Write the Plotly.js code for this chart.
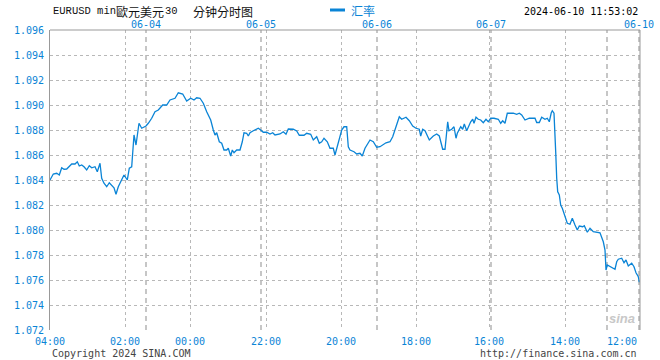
<!DOCTYPE html>
<html>
<head>
<meta charset="utf-8">
<script src="https://cdn.plot.ly/plotly-3.0.1.min.js"></script>
<style>html,body{margin:0;padding:0;background:#fff;}#chart{width:660px;height:360px;}</style>
</head>
<body>
<div id="chart"></div>
<script>
// time slot (sample position along the session) and EURUSD rate
const slots = [0,3.3,6.7,9.3,11.7,14,16.7,21.7,25,27.3,29.3,31.7,34,36.7,39.3,41.7,45,47.3,50,51.7,54,56.7,59.3,61.7,64,66,68.3,70.7,74,77.3,79.3,81.7,82.7,84,86,87.3,89,91.7,96,98.3,101.7,105,108.3,112.7,116.7,120,125,128.3,132.7,136.7,140.7,144,146.7,150,153.3,156.7,160.7,163.3,165,166.7,169.3,171.7,174,176.7,178.3,180.7,182.3,184,186.7,190,192.3,194,196.7,198.3,200,203.3,205,208.3,210.7,213.3,216.7,220,222.7,225,230,233.3,236,238.3,243.3,246.7,249.3,254,256.7,260.7,263.3,266.7,269.3,271.7,274,277.3,280,283.3,285,287.3,289.3,291.7,294,296.7,298.3,300,304,306.7,310,312.3,315,318.3,320,323.3,326.7,330,333,336,340,342.7,346,349.3,351.7,356,359.3,362.7,366,369.3,370.7,372.7,375,377.3,379.3,383.3,386.7,389.3,391,392.7,395,396.7,397.7,399,401.7,404,406,407.3,409.3,410.7,412.7,414.3,416.7,418.7,420.7,422.7,424,426,428.3,430.7,433.3,436,438.3,440.7,444,448.3,450.7,452.7,455,457.3,463.3,466.7,469.3,471.7,475,479.3,485,486.7,489.3,491.7,495,497.3,499.3,501.2,502.3,504,504.7,505.7,506.7,507.7,509.3,510.7,512.3,513.3,515,517.3,520,522.3,525,527.3,529.3,532.7,534.3,537.3,540,543.3,550,551.7,553.3,555,556,557.3,559.3,561.7,565,566.7,568.3,571.7,574,576,578.3,581.7,584,586,588.3,589.3];
const rate = [1.08400,1.08448,1.08454,1.08440,1.08498,1.08486,1.08488,1.08528,1.08528,1.08546,1.08512,1.08520,1.08506,1.08480,1.08514,1.08498,1.08506,1.08466,1.08534,1.08414,1.08374,1.08346,1.08378,1.08354,1.08338,1.08286,1.08346,1.08386,1.08440,1.08400,1.08494,1.08506,1.08654,1.08760,1.08680,1.08760,1.08854,1.08814,1.08832,1.08854,1.08894,1.08946,1.08960,1.09000,1.09000,1.09040,1.09054,1.09098,1.09088,1.09032,1.09054,1.09040,1.09058,1.09054,1.09014,1.08946,1.08880,1.08800,1.08760,1.08778,1.08706,1.08694,1.08640,1.08640,1.08654,1.08592,1.08640,1.08618,1.08640,1.08640,1.08706,1.08778,1.08774,1.08752,1.08778,1.08794,1.08800,1.08814,1.08800,1.08782,1.08782,1.08768,1.08778,1.08760,1.08768,1.08786,1.08766,1.08808,1.08806,1.08792,1.08758,1.08758,1.08774,1.08766,1.08720,1.08746,1.08694,1.08706,1.08734,1.08706,1.08654,1.08654,1.08600,1.08666,1.08726,1.08800,1.08826,1.08826,1.08666,1.08640,1.08626,1.08608,1.08614,1.08592,1.08654,1.08706,1.08720,1.08706,1.08662,1.08666,1.08682,1.08698,1.08706,1.08746,1.08826,1.08906,1.08886,1.08902,1.08874,1.08832,1.08814,1.08806,1.08752,1.08806,1.08794,1.08760,1.08720,1.08752,1.08768,1.08752,1.08706,1.08646,1.08646,1.08814,1.08866,1.08794,1.08806,1.08826,1.08734,1.08774,1.08814,1.08826,1.08806,1.08848,1.08794,1.08832,1.08866,1.08886,1.08854,1.08902,1.08886,1.08880,1.08858,1.08886,1.08866,1.08894,1.08894,1.08886,1.08854,1.08874,1.08854,1.08934,1.08934,1.08926,1.08934,1.08920,1.08880,1.08894,1.08894,1.08860,1.08860,1.08902,1.08886,1.08894,1.08866,1.08936,1.08954,1.08934,1.08840,1.08626,1.08414,1.08306,1.08280,1.08200,1.08174,1.08146,1.08106,1.08054,1.08046,1.08094,1.08040,1.08000,1.08032,1.08026,1.08034,1.07982,1.08014,1.07986,1.07978,1.07946,1.07906,1.07840,1.07680,1.07720,1.07712,1.07702,1.07686,1.07746,1.07766,1.07774,1.07738,1.07760,1.07712,1.07734,1.07706,1.07658,1.07626,1.07582];

// hour grid ticks (bottom) and their labels
const hourTicks = [0,75,140,216,291,366,439,515,590];
const hourLabels = ["04:00","02:00","00:00","22:00","20:00","18:00","16:00","14:00","12:00"];
// day separators (top) and their labels
const dayTicks = [96,211,327,441,557,589];
const dayLabels = ["06-04","06-05","06-06","06-07","","06-10"];
// title pieces
const titleParts = ["EURUSD min", "歐元美元", "30", "分钟分时图"];

const blue = '#0a84d6';
const mono = 'DejaVu Sans Mono, Liberation Mono, monospace';
const cjk = 'Noto Sans CJK TC, Noto Sans CJK SC, sans-serif';
const px = function(p){ return (p-50)/590; };   // page x -> paper x
const py = function(p){ return (330-p)/300; };  // page y -> paper y

const shapes = [];
dayTicks.forEach(function(d){
  shapes.push({type:'line', xref:'x', yref:'paper', x0:d, x1:d, y0:0, y1:1,
    line:{color:'#b4b4b4', width:1.5, dash:'5px,4px'}, layer:'below'});
});
// top and right frame
shapes.push({type:'line', xref:'paper', yref:'paper', x0:0, x1:1, y0:1, y1:1, line:{color:'#999', width:1}});
shapes.push({type:'line', xref:'paper', yref:'paper', x0:1, x1:1, y0:0, y1:1, line:{color:'#999', width:1}});
// legend sample line
shapes.push({type:'line', xref:'paper', yref:'paper', x0:px(330), x1:px(345), y0:py(10), y1:py(10), line:{color:blue, width:3}});

const annotations = [];
hourTicks.forEach(function(t,i){
  const last = i === hourTicks.length-1;
  annotations.push({x:t, xref:'x', y:0, yref:'paper', yanchor:'top', yshift:-4,
    xanchor: last ? 'right' : 'center', xshift: last ? -1 : 0,
    text:hourLabels[i], showarrow:false, font:{family:mono, size:10, color:blue}});
});
dayTicks.forEach(function(t,i){
  if(!dayLabels[i]) return;
  annotations.push({x:t, xref:'x', y:1, yref:'paper', yanchor:'bottom', yshift:-1, borderpad:0,
    xanchor:'center', text:dayLabels[i], showarrow:false, font:{family:mono, size:10, color:blue}});
});
// chart title, in pieces
const titleX = [52, 115, 164, 192];
titleParts.forEach(function(t,i){
  const latin = (i % 2 === 0);
  annotations.push({xref:'paper', yref:'paper', x:px(titleX[i]), y:py(11), xanchor:'left', yanchor:'middle',
    align:'left', borderpad:0, text:t, showarrow:false,
    font:{family: latin ? 'Liberation Mono, monospace' : cjk, size: latin ? 10.5 : 12, color:'#111'}});
});
annotations.push({xref:'paper', yref:'paper', x:px(350), y:py(10), xanchor:'left', yanchor:'middle', borderpad:0,
  text:'汇率', showarrow:false, font:{family:'Noto Sans CJK SC', size:12, color:blue}});
annotations.push({xref:'paper', yref:'paper', x:1, y:py(12), xanchor:'right', yanchor:'middle', xshift:-1, borderpad:0,
  text:'2024-06-10 11:53:02', showarrow:false, font:{family:mono, size:10, color:'#000'}});
annotations.push({xref:'paper', yref:'paper', x:0, y:py(353), xanchor:'left', yanchor:'middle',
  text:'Copyright 2024 SINA.COM', showarrow:false, font:{family:mono, size:10, color:'#444'}});
annotations.push({xref:'paper', yref:'paper', x:1, y:py(353), xanchor:'right', yanchor:'middle', xshift:-1,
  text:'http://finance.sina.com.cn', showarrow:false, font:{family:mono, size:10, color:'#444'}});
annotations.push({xref:'paper', yref:'paper', x:1, y:0, xanchor:'right', yanchor:'bottom', xshift:-3, yshift:2,
  text:'<b><i>sina</i></b>', showarrow:false, font:{family:'Liberation Sans', size:13, color:'#c8c8c8'}});

const data = [{
  x: slots, y: rate, type:'scatter', mode:'lines', name:'汇率',
  line:{color:blue, width:1.3}, showlegend:false, hoverinfo:'skip'
}];

const layout = {
  width:660, height:360,
  margin:{l:50, r:20, t:30, b:30},
  paper_bgcolor:'#fff', plot_bgcolor:'#fff',
  showlegend:false,
  xaxis:{
    range:[0,590], tickvals:hourTicks, showticklabels:false, ticks:'',
    showgrid:true, gridcolor:'#b8b8b8', griddash:'dot', gridwidth:1,
    zeroline:false, showline:false, fixedrange:true
  },
  yaxis:{
    range:[1.072,1.096], dtick:0.002, tick0:1.072, tickformat:'.3f',
    showgrid:true, gridcolor:'#b8b8b8', griddash:'dot', gridwidth:1,
    showline:true, linecolor:'#999', linewidth:1,
    ticks:'', ticklabelstandoff:3, zeroline:false,
    tickfont:{family:mono, size:10, color:blue}, fixedrange:true
  },
  shapes:shapes,
  annotations:annotations
};

Plotly.newPlot('chart', data, layout, {staticPlot:true, displayModeBar:false});
</script>
</body>
</html>
